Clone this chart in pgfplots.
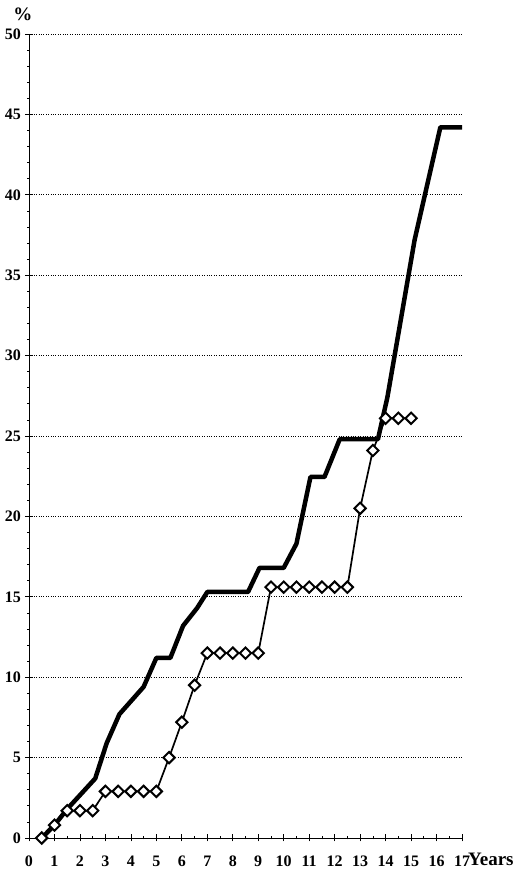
\documentclass[border=0pt]{standalone}
\usepackage{pgfplots}
\pgfplotsset{compat=1.18}
\usepackage{fontspec}
\setmainfont{Liberation Serif}
\begin{document}
\begin{tikzpicture}
\useasboundingbox (-29pt,-36pt) rectangle (491pt,838pt);
\begin{axis}[
  at={(0pt,0pt)}, anchor=south west,
  scale only axis, width=433pt, height=804pt,
  xmin=0, xmax=17, ymin=0, ymax=50,
  axis lines=left, axis line style={-, line width=0.9pt},
  xtick={0,1,...,17}, ytick={0,5,...,50},
  minor x tick num=1, minor y tick num=4,
  tick align=center, major tick length=7pt, minor tick length=3pt,
  tick style={black, line width=0.7pt},
  ymajorgrids, grid style={dotted, black, line width=0.8pt},
  /pgf/number format/assume math mode=true,
  ticklabel style={font=\bfseries\fontsize{16}{16}\selectfont},
  xticklabel style={yshift=-11pt},
  yticklabel style={xshift=-1pt},
  clip=false,
]
\addplot[black, line width=4.5pt, line join=round] coordinates {
(0.5,0) (1,0.8) (1.5,1.8) (2.6,3.7) (3.05,5.9) (3.55,7.7) (4.5,9.4)
(5.0,11.2) (5.55,11.2) (6.05,13.2) (6.6,14.3) (7.0,15.3) (8.6,15.3)
(9.05,16.8) (10.0,16.8) (10.5,18.3) (11.05,22.45) (11.6,22.45) (12.2,24.8)
(13.7,24.8) (14.07,27.4) (15.14,37.2) (16.15,44.2) (17,44.2)
};
\addplot[black, line width=1.7pt, mark=square*, mark size=4.0pt,
  mark options={rotate=45, fill=white, draw=black, line width=2.0pt}] coordinates {
(0.5,0) (1,0.8) (1.5,1.7) (2,1.7) (2.5,1.7) (3,2.9) (3.5,2.9) (4,2.9)
(4.5,2.9) (5,2.9) (5.5,5.0) (6,7.2) (6.5,9.5) (7,11.5) (7.5,11.5) (8,11.5)
(8.5,11.5) (9,11.5) (9.5,15.6) (10,15.6) (10.5,15.6) (11,15.6) (11.5,15.6)
(12,15.6) (12.5,15.6) (13,20.5) (13.5,24.1) (14,26.1) (14.5,26.1) (15,26.1)
};
\node[anchor=west, font=\bfseries\fontsize{19}{19}\selectfont, inner sep=0pt] at (axis cs:17,0) [yshift=-21pt, xshift=6pt] {Years};
\node[font=\bfseries\fontsize{19}{19}\selectfont, inner sep=0pt] at (axis cs:0,50) [yshift=20pt, xshift=-6pt] {\%};
\end{axis}
\end{tikzpicture}
\end{document}
